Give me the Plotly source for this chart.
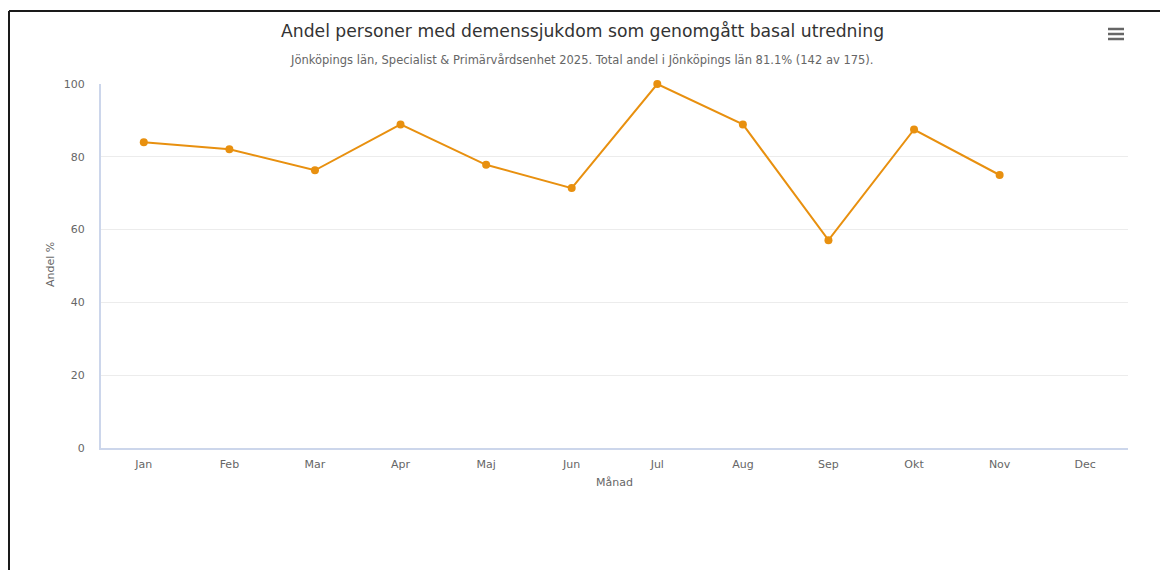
import plotly.graph_objects as go

months = ["Jan", "Feb", "Mar", "Apr", "Maj", "Jun", "Jul", "Aug", "Sep", "Okt", "Nov", "Dec"]
andel = [84.0, 82.1, 76.3, 88.9, 77.8, 71.4, 100.0, 88.9, 57.1, 87.5, 75.0, None]
y_ticks = [0, 20, 40, 60, 80, 100]

title_text = "Andel personer med demenssjukdom som genomgått basal utredning"
subtitle_text = "Jönköpings län, Specialist & Primärvårdsenhet 2025. Total andel i Jönköpings län 81.1% (142 av 175)."
x_title = "Månad"
y_title = "Andel %"

# page body has an 8px margin: draw in shifted coordinates
OFF = 8
W, H = 1168 - OFF, 570 - OFF
L, R, T, B = 101 - OFF, 1128 - OFF, 84 - OFF, 448 - OFF
pw, ph = R - L, B - T


def px(x):
    return (x - OFF - L) / pw


def py(y):
    return (B - (y - OFF)) / ph


FONT = "DejaVu Sans, sans-serif"

fig = go.Figure()
fig.add_trace(go.Scatter(
    x=months, y=andel, mode="lines+markers",
    line=dict(color="#e8900f", width=2),
    marker=dict(color="#e8900f", size=8),
    connectgaps=False, showlegend=False, hoverinfo="x+y", cliponaxis=False,
))

shapes = [
    dict(type="line", xref="paper", yref="paper", x0=px(9), x1=px(1180), y0=py(11), y1=py(11),
         line=dict(color="#1a1a1a", width=2)),
    dict(type="line", xref="paper", yref="paper", x0=px(9), x1=px(9), y0=py(11), y1=py(580),
         line=dict(color="#1a1a1a", width=2)),
]
for yy in (29, 34, 39):
    shapes.append(dict(type="line", xref="paper", yref="paper", x0=px(1108), x1=px(1124),
                       y0=py(yy), y1=py(yy), line=dict(color="#666666", width=2.5)))

annotations = [
    dict(text=title_text, xref="paper", yref="paper", x=px(582), y=py(31), showarrow=False,
         xanchor="center", yanchor="middle", font=dict(family=FONT, size=17.2, color="#333333")),
    dict(text=subtitle_text, xref="paper", yref="paper", x=px(581), y=py(60), showarrow=False,
         xanchor="center", yanchor="middle", font=dict(family=FONT, size=11.5, color="#666666")),
    dict(text=x_title, xref="paper", yref="paper", x=px(614), y=py(482), showarrow=False,
         xanchor="center", yanchor="middle", font=dict(family=FONT, size=11, color="#666666")),
    dict(text=y_title, xref="paper", yref="paper", x=px(50), y=py(265), showarrow=False,
         textangle=-90, xanchor="center", yanchor="middle", font=dict(family=FONT, size=11, color="#666666")),
]

fig.update_layout(
    width=W, height=H,
    margin=dict(l=L, r=W - R, t=T, b=H - B),
    paper_bgcolor="white", plot_bgcolor="white",
    font=dict(family=FONT, size=11, color="#666666"),
    shapes=shapes, annotations=annotations,
    xaxis=dict(type="category", categoryorder="array", categoryarray=months,
               range=[-0.5, 11.5], showgrid=False, zeroline=False,
               showline=True, linecolor="#ccd6eb", linewidth=2,
               ticks="", ticklabelstandoff=5, tickfont=dict(size=11, color="#666666")),
    yaxis=dict(range=[0, 100], tickvals=y_ticks, showgrid=True, gridcolor="#ececec", gridwidth=1,
               zeroline=False, showline=True, linecolor="#ccd6eb", linewidth=2,
               ticks="", ticklabelstandoff=12, tickfont=dict(size=11, color="#666666")),
    hovermode="closest",
)

fig.write_html("out.html", config={"displayModeBar": False})
